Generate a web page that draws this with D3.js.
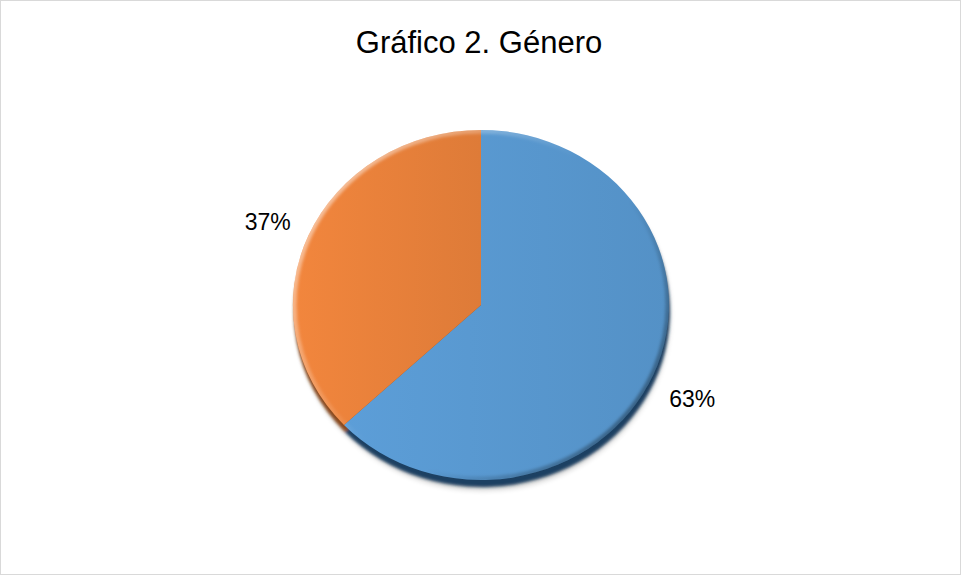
<!DOCTYPE html>
<html>
<head>
<meta charset="utf-8">
<script src="https://cdn.jsdelivr.net/npm/d3@7"></script>
<style>
  body { margin: 0; background: #fff; }
  svg { display: block; }
</style>
</head>
<body>
<div id="chart"></div>
<script>
// data
var categories = ["Masculino", "Femenino"];
var values = [63, 37];
var labels = ["63%", "37%"];
var colors = ["#5897cf", "#e8803a"];
var darkColors = ["#1f3f62", "#8a4a1e"];

var width = 961, height = 575;
var cx = 481, cy = 305, rx = 188, ry = 175;

var svg = d3.select("#chart").append("svg")
  .attr("width", width)
  .attr("height", height);

// outer frame
svg.append("rect")
  .attr("x", 0.5).attr("y", 0.5)
  .attr("width", width - 1).attr("height", height - 1)
  .attr("fill", "#fff")
  .attr("stroke", "#d9d9d9");

var defs = svg.append("defs");

var blur = defs.append("filter").attr("id", "blur")
  .attr("x", "-20%").attr("y", "-20%").attr("width", "140%").attr("height", "140%");
blur.append("feGaussianBlur").attr("stdDeviation", 3);

var blur2 = defs.append("filter").attr("id", "blur2")
  .attr("x", "-20%").attr("y", "-20%").attr("width", "140%").attr("height", "140%");
blur2.append("feGaussianBlur").attr("stdDeviation", 1.5);

colors.forEach(function(c, i) {
  var g = defs.append("linearGradient").attr("id", "grad" + i)
    .attr("x1", "0").attr("y1", "0").attr("x2", "1").attr("y2", "0");
  g.append("stop").attr("offset", "0%").attr("stop-color", d3.color(c).brighter(0.12));
  g.append("stop").attr("offset", "100%").attr("stop-color", d3.color(c).darker(0.12));
});

// bevel highlight (light top-left, dark bottom-right)
var bev = defs.append("linearGradient").attr("id", "bevel")
  .attr("x1", "0").attr("y1", "0.2").attr("x2", "1").attr("y2", "0.9");
bev.append("stop").attr("offset", "0%").attr("stop-color", "#fff").attr("stop-opacity", 0.55);
bev.append("stop").attr("offset", "45%").attr("stop-color", "#fff").attr("stop-opacity", 0);
bev.append("stop").attr("offset", "60%").attr("stop-color", "#000").attr("stop-opacity", 0);
bev.append("stop").attr("offset", "100%").attr("stop-color", "#000").attr("stop-opacity", 0.45);

defs.append("clipPath").attr("id", "pieClip")
  .append("ellipse").attr("cx", cx).attr("cy", cy).attr("rx", rx).attr("ry", ry);

var pie = d3.pie().sort(null).value(function(d) { return d; });
var arcs = pie(values);
var arc = d3.arc().innerRadius(0).outerRadius(1);

// drop shadow
svg.append("ellipse")
  .attr("cx", cx + 2).attr("cy", cy + 9)
  .attr("rx", rx - 2).attr("ry", ry)
  .attr("fill", "#000").attr("opacity", 0.28)
  .attr("filter", "url(#blur)");

// dark rim (slices shifted down)
svg.append("g")
  .attr("filter", "url(#blur2)")
  .selectAll("path")
  .data(arcs)
  .enter()
  .append("path")
    .attr("d", arc)
    .attr("transform", function(d) { return "translate(" + (cx + 1) + "," + (cy + 7) + ") scale(" + rx + "," + ry + ")"; })
    .attr("fill", function(d, i) { return darkColors[i]; });

// slices
svg.append("g")
  .selectAll("path")
  .data(arcs)
  .enter()
  .append("path")
    .attr("d", arc)
    .attr("transform", "translate(" + cx + "," + cy + ") scale(" + rx + "," + ry + ")")
    .attr("fill", function(d, i) { return "url(#grad" + i + ")"; });

// bevel edge
svg.append("g").attr("clip-path", "url(#pieClip)")
  .append("ellipse")
  .attr("cx", cx).attr("cy", cy).attr("rx", rx).attr("ry", ry)
  .attr("fill", "none")
  .attr("stroke", "url(#bevel)")
  .attr("stroke-width", 7)
  .attr("filter", "url(#blur2)");

// labels
var labelArc = d3.arc().innerRadius(1.23).outerRadius(1.23);
svg.append("g")
  .selectAll("text")
  .data(arcs)
  .enter()
  .append("text")
    .attr("x", function(d) { return cx - 1 + labelArc.centroid(d)[0] * rx; })
    .attr("y", function(d) { return cy + 5.5 + labelArc.centroid(d)[1] * ry * 1.03; })
    .attr("text-anchor", "middle")
    .attr("dominant-baseline", "central")
    .style("font-family", "Liberation Sans, Arial, sans-serif")
    .style("font-size", "23px")
    .style("fill", "#000")
    .text(function(d, i) { return labels[i]; });

// title
svg.append("text")
  .attr("x", 479)
  .attr("y", 53)
  .attr("text-anchor", "middle")
  .style("font-family", "Liberation Sans, Arial, sans-serif")
  .style("font-size", "31px")
  .style("fill", "#000")
  .text("Gráfico 2. Género");
</script>
</body>
</html>
